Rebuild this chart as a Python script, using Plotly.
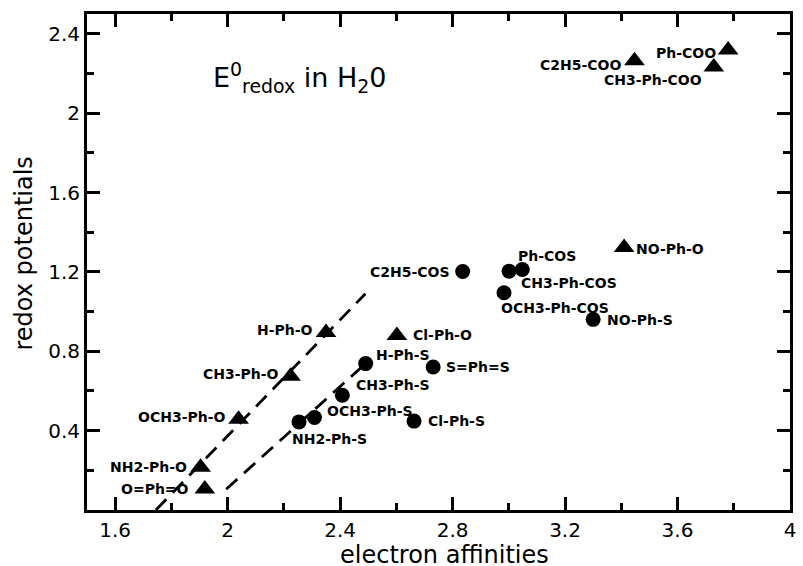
import plotly.graph_objects as go

# ---- data ----
tri_names = ["Ph-COO", "C2H5-COO", "CH3-Ph-COO", "NO-Ph-O", "Cl-Ph-O",
             "H-Ph-O", "CH3-Ph-O", "OCH3-Ph-O", "NH2-Ph-O", "O=Ph=O"]
tri_ea = [3.78, 3.447, 3.729, 3.41, 2.602, 2.35, 2.224, 2.039, 1.904, 1.919]
tri_redox = [2.319, 2.264, 2.233, 1.323, 0.88, 0.895, 0.674, 0.458, 0.216, 0.106]

circ_names = ["C2H5-COS", "CH3-Ph-COS", "Ph-COS", "OCH3-Ph-COS", "NO-Ph-S",
              "S=Ph=S", "Cl-Ph-S", "H-Ph-S", "CH3-Ph-S", "OCH3-Ph-S", "NH2-Ph-S"]
circ_ea = [2.836, 3.001, 3.048, 2.983, 3.30, 2.731, 2.663, 2.491, 2.408, 2.309, 2.254]
circ_redox = [1.202, 1.204, 1.212, 1.095, 0.961, 0.721, 0.448, 0.738, 0.578, 0.466, 0.444]

fit1_ea = [1.745, 2.49]
fit1_redox = [0.0, 1.09]
fit2_ea = [1.995, 2.50]
fit2_redox = [0.105, 0.75]

x_ticks = [1.6, 2.0, 2.4, 2.8, 3.2, 3.6, 4.0]
x_ticktext = ["1.6", "2", "2.4", "2.8", "3.2", "3.6", "4"]
x_minor = [1.8, 2.2, 2.6, 3.0, 3.4, 3.8]
y_ticks = [0.4, 0.8, 1.2, 1.6, 2.0, 2.4]
y_ticktext = ["0.4", "0.8", "1.2", "1.6", "2", "2.4"]
y_minor = [0.2, 0.6, 1.0, 1.4, 1.8, 2.2]

# label placement (anchor, x offset px, y offset px)
label_pos = {
    "Ph-COO": ("right", -10, -3),
    "C2H5-COO": ("right", -12, -4),
    "CH3-Ph-COO": ("right", -10, -13),
    "NO-Ph-O": ("left", 10, -1),
    "Cl-Ph-O": ("left", 14, 0),
    "H-Ph-O": ("right", -11, 2),
    "CH3-Ph-O": ("right", -10, 2),
    "OCH3-Ph-O": ("right", -12, 2),
    "NH2-Ph-O": ("right", -12, 0),
    "O=Ph=O": ("right", -14, 0),
    "C2H5-COS": ("right", -11, 0),
    "CH3-Ph-COS": ("left", 10, -12),
    "Ph-COS": ("left", -6, 14),
    "OCH3-Ph-COS": ("left", -5, -15),
    "NO-Ph-S": ("left", 12, -1),
    "S=Ph=S": ("left", 11, 0),
    "Cl-Ph-S": ("left", 12, 0),
    "H-Ph-S": ("left", 8, 9),
    "CH3-Ph-S": ("left", 12, 10),
    "OCH3-Ph-S": ("left", 11, 7),
    "NH2-Ph-S": ("left", -9, -17),
}

fig = go.Figure()
dash_line = dict(color="black", width=2.8, dash="15px,9px")
fig.add_trace(go.Scatter(x=fit1_ea, y=fit1_redox, mode="lines", line=dash_line,
                         showlegend=False, hoverinfo="skip"))
fig.add_trace(go.Scatter(x=fit2_ea, y=fit2_redox, mode="lines", line=dash_line,
                         showlegend=False, hoverinfo="skip"))
fig.add_trace(go.Scatter(x=tri_ea, y=tri_redox, mode="markers", text=tri_names,
                         marker=dict(symbol="triangle-up", size=18, color="black"),
                         showlegend=False))
fig.add_trace(go.Scatter(x=circ_ea, y=circ_redox, mode="markers", text=circ_names,
                         marker=dict(symbol="circle", size=15, color="black"),
                         showlegend=False))

lab_font = dict(family="DejaVu Sans", size=14, color="black", weight="bold")
for names, xs, ys in [(tri_names, tri_ea, tri_redox), (circ_names, circ_ea, circ_redox)]:
    for n, xv, yv in zip(names, xs, ys):
        anc, dx, dy = label_pos[n]
        fig.add_annotation(x=xv, y=yv, xref="x", yref="y", text=n, showarrow=False,
                           xanchor=anc, yanchor="middle", xshift=dx, yshift=dy,
                           font=lab_font)

# in-plot title
fig.add_annotation(x=0.176, y=0.871, xref="paper", yref="paper",
                   text="E<sup>0</sup><sub>redox</sub> in H<sub>2</sub>0",
                   showarrow=False, xanchor="left", yanchor="middle",
                   font=dict(family="DejaVu Sans", size=27, color="black"))
# axis titles
fig.add_annotation(x=0.508, y=-0.0905, xref="paper", yref="paper",
                   text="electron affinities", showarrow=False,
                   xanchor="center", yanchor="middle",
                   font=dict(family="DejaVu Sans", size=24, color="black"))
fig.add_annotation(x=-0.089, y=0.518, xref="paper", yref="paper",
                   text="redox potentials", showarrow=False, textangle=-90,
                   xanchor="center", yanchor="middle",
                   font=dict(family="DejaVu Sans", size=24, color="black"))

axis_common = dict(showline=True, linewidth=3, linecolor="black", mirror="allticks",
                   ticks="inside", ticklen=13, tickwidth=3, tickcolor="black",
                   showgrid=False, zeroline=False,
                   tickfont=dict(family="DejaVu Sans", size=20, color="black"))
fig.update_xaxes(range=[1.5, 4.0], tickvals=x_ticks, ticktext=x_ticktext,
                 minor=dict(tickvals=x_minor, ticks="inside", ticklen=7, tickwidth=3,
                            tickcolor="black", showgrid=False),
                 **axis_common)
fig.update_yaxes(range=[0, 2.5], tickvals=y_ticks, ticktext=y_ticktext,
                 minor=dict(tickvals=y_minor, ticks="inside", ticklen=7, tickwidth=3,
                            tickcolor="black", showgrid=False),
                 **axis_common)

fig.update_layout(width=803, height=566, margin=dict(l=87, r=7, t=14, b=56),
                  paper_bgcolor="white", plot_bgcolor="white")
fig.write_html("out.html")
